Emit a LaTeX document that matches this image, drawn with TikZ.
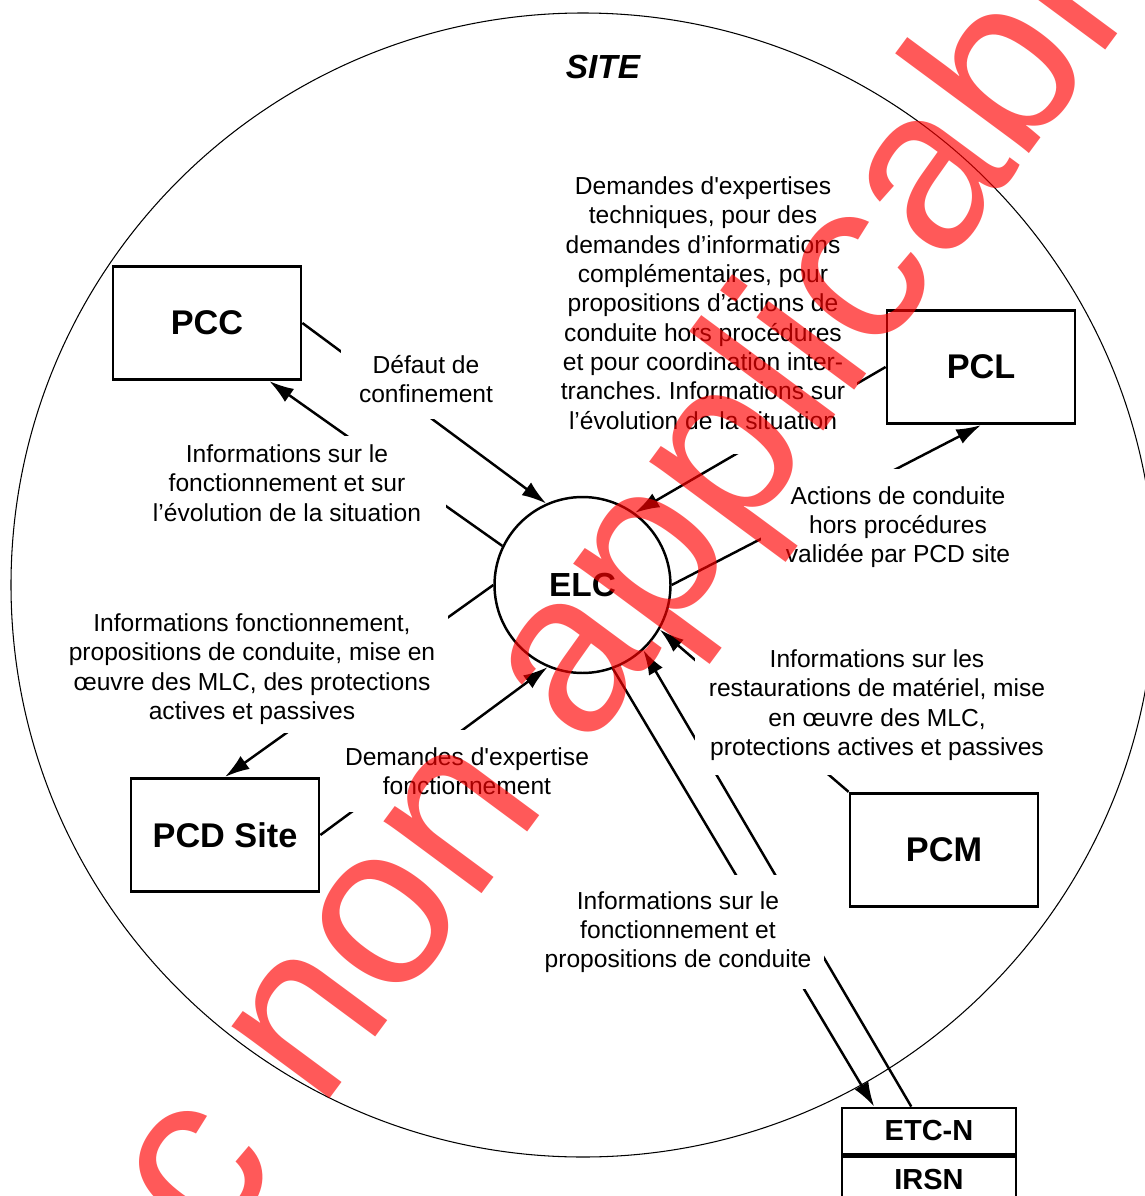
\documentclass[tikz,border=0pt]{standalone}
\usepackage{fontspec}
\setmainfont{Liberation Sans}
\frenchspacing
\usetikzlibrary{arrows.meta,positioning}

\begin{document}
\begin{tikzpicture}[
    x=0.02cm, y=-0.02cm,
    post/.style={
        rectangle,
        draw,
        line width=1.6pt,
        minimum width=3.76cm,
        minimum height=2.27cm,
        font=\fontsize{19.5}{23}\selectfont\bfseries
    },
    info/.style={
        fill=white,
        align=center,
        inner xsep=7pt,
        inner ysep=5pt,
        font=\fontsize{14}{16.7}\selectfont
    },
    flow/.style={
        line width=1.4pt,
        -{Latex[length=14pt,width=9pt]}
    },
    stamp/.style={
        text=red,
        text opacity=0.65,
        inner sep=0pt,
        font=\fontsize{131}{131}\selectfont
    }
]
\useasboundingbox (0,0) rectangle (1145,1196);

% Site boundary
\draw[line width=0.6pt] (583,585) circle (572);
\node[font=\fontsize{19}{23}\selectfont\bfseries\itshape] (site) at (603,67) {SITE};

% Local crisis team
\node[draw, circle, line width=1.4pt, minimum size=3.52cm,
      font=\fontsize{19}{23}\selectfont\bfseries] (elc) at (582.5,585) {ELC};

% Command posts
\node[post] (pcc) at (207,323) {PCC};
\node[post] (pcl) at (981,367) {PCL};
\node[post] (pcd) at (225,835) {PCD Site};
\node[post] (pcm) at (944,850) {PCM};

% National technical team
\node[post, minimum width=3.48cm, minimum height=0.92cm,
      font=\fontsize{16.5}{20}\selectfont\bfseries] (etcn) at (929,1131) {ETC-N};
\node[post, minimum width=3.48cm, minimum height=0.92cm,
      font=\fontsize{16.5}{20}\selectfont\bfseries, below=0pt of etcn] (irsn) {IRSN};

% Exchanges
\draw[flow] (pcc.east) -- (elc.114);
\draw[flow] (elc.154) -- (pcc.-43);
\draw[flow] (pcl.west) -- (elc.54);
\draw[flow] (elc.east) -- (pcl.south);
\draw[flow] (elc.west) -- (pcd.north);
\draw[flow] (pcd.east) -- (elc.247);
\draw[flow] (pcm.north west) -- (elc.-30);
\draw[flow] (elc.-70) -- (etcn.156);
\draw[flow] (etcn.126) -- (elc.-47);

% Labels on the exchanges
\node[info, inner xsep=10pt, inner ysep=9pt] (defaut) at (426,379) {Défaut de\\confinement};
\node[info, inner xsep=14pt] (infopcc) at (287,483) {Informations sur le\\fonctionnement et sur\\l’évolution de la situation};
\node[info, inner ysep=14pt] (demandes) at (703,303) {Demandes d\textquotesingle expertises\\techniques, pour des\\demandes d’informations\\complémentaires, pour\\propositions d’actions de\\conduite hors procédures\\et pour coordination inter-\\tranches. Informations sur\\l’évolution de la situation};
\node[info, inner xsep=14pt, inner ysep=10pt] (actions) at (898,527) {Actions de conduite\\hors procédures\\validée par PCD site};
\node[info] (infopcd) at (252,669) {Informations fonctionnement,\\propositions de conduite, mise en\\œuvre des MLC, des protections\\actives et passives};
\node[info, inner xsep=3pt, inner ysep=10pt] (expertise) at (467,771) {Demandes d\textquotesingle expertise\\fonctionnement};
\node[info, inner xsep=8pt, inner ysep=8pt] (infopcm) at (877,705) {Informations sur les\\restaurations de matériel, mise\\en œuvre des MLC,\\protections actives et passives};
\node[info, inner ysep=9pt] (infoetc) at (678,932) {Informations sur le\\fonctionnement et\\propositions de conduite};

% Stamp across the sheet
\begin{scope}
\clip (0,0) rectangle (1145,1196);
\node[stamp, rotate=53.5, anchor=base west] (stamp) at (213.6,1255.9) {c non applicable};
\end{scope}

\end{tikzpicture}
\end{document}
